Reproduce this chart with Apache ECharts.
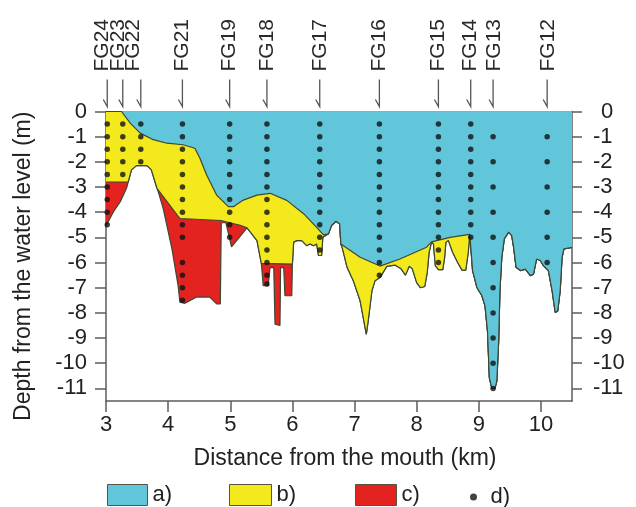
<!DOCTYPE html>
<html><head><meta charset="utf-8">
<script src="https://cdn.jsdelivr.net/npm/echarts@6/dist/echarts.min.js"></script>
<style>html,body{margin:0;padding:0;background:#fff}#c{width:636px;height:507px}</style>
</head><body><div id="c"></div>
<script>
// ---------- data ----------
const xTicks = [3, 4, 5, 6, 7, 8, 9, 10];
const depthTicks = [0, -1, -2, -3, -4, -5, -6, -7, -8, -9, -10, -11];

const profileNames = ['FG24','FG23','FG22','FG21','FG19','FG18','FG17','FG16','FG15','FG14','FG13','FG12'];
const profileKm    = [3.02, 3.27, 3.56, 4.23, 4.99, 5.59, 6.44, 7.40, 8.35, 8.87, 9.23, 10.10];
const labelKm      = [2.94, 3.19, 3.445, 4.23, 4.99, 5.59, 6.44, 7.40, 8.35, 8.86, 9.24, 10.11];

// sampling depths (m) at each profile, layer d)
const sampleDepths = [
  [-0.5,-1,-1.5,-2,-2.5,-3,-3.5,-4,-4.5],
  [-0.5,-1,-1.5,-2,-2.5],
  [-0.5,-1,-1.5,-2],
  [-0.5,-1,-1.5,-2,-2.5,-3,-3.5,-4,-4.5,-5,-6,-6.5,-7,-7.5],
  [-0.5,-1,-1.5,-2,-2.5,-3,-3.5,-4,-4.5,-5],
  [-0.5,-1,-1.5,-2,-2.5,-3,-3.5,-4,-4.5,-5,-5.5,-6,-6.5,-6.85],
  [-0.5,-1,-1.5,-2,-2.5,-3,-3.5,-4,-4.5,-5,-5.5],
  [-0.5,-1,-1.5,-2,-2.5,-3,-3.5,-4,-4.5,-5,-5.5,-6,-6.5],
  [-0.5,-1,-1.5,-2,-2.5,-3,-3.5,-4,-4.5,-5,-5.5,-6],
  [-0.5,-1,-1.5,-2,-2.5,-3,-3.5,-4,-4.5,-5],
  [-1,-2,-3,-4,-5,-6,-7,-8,-9,-10,-11],
  [-1,-2,-3,-4,-5,-6]
];

// river bed (bottom of all layers): [km, depth m]
const bedProfile = [
  [3.00,-4.55],[3.12,-3.98],[3.23,-3.58],[3.33,-3.05],[3.41,-2.32],[3.49,-2.15],[3.66,-2.15],[3.73,-2.32],
  [3.82,-3.05],[3.84,-3.18],[3.92,-3.85],[4.06,-5.44],[4.16,-6.91],[4.19,-7.57],[4.27,-7.62],[4.46,-7.37],
  [4.67,-7.37],[4.78,-7.64],[4.84,-7.64],[4.855,-4.42],[4.93,-4.42],[5.02,-5.38],[5.27,-4.62],[5.43,-5.13],
  [5.50,-6.03],[5.53,-6.92],[5.61,-6.92],[5.64,-6.2],[5.70,-6.2],[5.72,-8.45],[5.80,-8.5],[5.81,-6.2],
  [5.86,-6.2],[5.88,-7.32],[5.99,-7.32],[6.00,-6.06],[6.02,-5.19],[6.07,-5.13],[6.15,-5.13],[6.23,-5.33],
  [6.28,-5.26],[6.34,-5.33],[6.39,-5.26],[6.42,-5.72],[6.47,-5.72],[6.49,-4.99],[6.58,-4.86],[6.63,-4.53],
  [6.70,-4.36],[6.76,-4.46],[6.78,-5.26],[6.80,-5.39],[6.88,-6.19],[6.98,-6.72],[7.09,-7.52],[7.15,-8.32],
  [7.19,-8.85],[7.22,-8.32],[7.28,-7.12],[7.33,-6.72],[7.41,-6.59],[7.52,-6.15],[7.65,-6.1],[7.75,-6.25],
  [7.82,-6.5],[7.88,-6.15],[7.93,-6.25],[8.00,-6.8],[8.06,-7.0],[8.13,-6.95],[8.17,-6.4],[8.20,-5.6],
  [8.24,-5.18],[8.27,-5.26],[8.30,-6.12],[8.35,-6.28],[8.42,-6.28],[8.45,-5.8],[8.47,-5.2],[8.51,-5.12],
  [8.58,-5.6],[8.66,-6.0],[8.73,-6.3],[8.79,-6.3],[8.83,-5.6],[8.855,-4.88],[8.875,-5.5],[8.90,-6.32],
  [8.97,-6.99],[9.05,-7.32],[9.10,-7.72],[9.14,-8.72],[9.17,-10.58],[9.21,-11.0],[9.26,-11.0],[9.29,-10.71],
  [9.32,-9.11],[9.34,-7.12],[9.37,-5.79],[9.41,-5.06],[9.48,-4.79],[9.53,-4.93],[9.56,-5.39],[9.60,-6.19],
  [9.67,-6.32],[9.75,-6.26],[9.83,-6.52],[9.88,-6.46],[9.93,-5.86],[9.99,-5.92],[10.04,-6.12],[10.12,-6.32],
  [10.18,-7.12],[10.23,-7.98],[10.27,-7.92],[10.31,-7.12],[10.34,-5.79],[10.37,-5.46],[10.50,-5.4]
];

// top of layer c) where it is present
const layerCTop = [
  [[3.00,-2.80],[3.357,-2.80]],
  [[3.82,-3.05],[4.19,-4.25],[4.855,-4.33],[4.93,-4.38],[5.16,-4.52],[5.27,-4.62]],
  [[5.50,-6.03],[6.00,-6.06]]
];

// top of layer b) (base of water column a) where sediment is present
const layerBTop = [
  [[3.00,0],[3.25,0],[3.39,-0.46],[3.55,-0.86],[3.76,-1.12],[3.98,-1.26],[4.24,-1.32],[4.43,-1.46],
   [4.51,-1.85],[4.62,-2.52],[4.78,-3.32],[4.97,-3.78],[5.05,-3.78],[5.21,-3.52],[5.43,-3.32],[5.64,-3.25],
   [5.91,-3.53],[6.18,-4.06],[6.39,-4.6],[6.50,-4.9],[6.58,-4.86]],
  [[6.78,-5.26],[6.80,-5.33],[7.09,-5.79],[7.41,-6.14],[7.73,-5.86],[8.16,-5.39],[8.24,-5.18],
   [8.54,-5.0],[8.855,-4.88]]
];

// ---------- build ----------
function withSegments(base, segs) {
  const kept = base.filter(p => !segs.some(s => p[0] >= s[0][0] && p[0] <= s[s.length-1][0]));
  const all = kept.concat(...segs);
  return all.sort((a, b) => a[0] - b[0]);
}
const yellowLine = withSegments(bedProfile, layerCTop);
const blueLine = withSegments(bedProfile, layerBTop);

const dots = [];
profileKm.forEach((km, i) => sampleDepths[i].forEach(d => dots.push([km, d])));

const FONT = '"Liberation Sans", Arial, Helvetica, sans-serif';
const AXIS = '#5c5c5c';
const TXT = '#222';
const OUT = '#3d4734';
const BLUE = '#62c6db', YELLOW = '#f3e91c', RED = '#e2231f';

const chart = echarts.init(document.getElementById('c'), null, {renderer: 'canvas'});

function legendFor(name, left, icon, color, w, h, top) {
  return {
    data: [{name: name, icon: icon, itemStyle: {color: color}}],
    left: left, top: top, padding: 0, itemWidth: w, itemHeight: h, selectedMode: false,
    itemStyle: icon === 'rect' ? {borderColor: '#5a5240', borderWidth: 1} : {borderWidth: 0},
    textStyle: {fontSize: 22, color: TXT, fontFamily: FONT}
  };
}

const option = {
  animation: false,
  backgroundColor: '#fff',
  grid: {left: 106, right: 64, top: 111.5, bottom: 106},
  legend: [
    legendFor('a)', 107, 'rect', BLUE, 40, 21, 484),
    legendFor('b)', 229, 'rect', YELLOW, 42, 21, 484),
    legendFor('c)', 355, 'rect', RED, 41, 21, 484),
    legendFor('d)', 470, 'circle', '#111', 24, 7, 486)
  ],
  xAxis: [
    {
      type: 'value', min: 3, max: 10.5, position: 'bottom',
      name: 'Distance from the mouth (km)', nameLocation: 'middle', nameGap: 46,
      nameTextStyle: {fontSize: 23, color: TXT, fontFamily: FONT, padding: [0, 0, 0, 12]},
      axisLine: {show: true, onZero: false, lineStyle: {color: AXIS, width: 1.5}},
      axisTick: {show: true, length: 11, customValues: xTicks, lineStyle: {color: AXIS, width: 1.5}},
      axisLabel: {customValues: xTicks, margin: 13, fontSize: 22, color: TXT, fontFamily: FONT},
      splitLine: {show: false}
    },
    {
      type: 'value', min: 3, max: 10.5, position: 'top',
      axisLine: {show: true, onZero: false, lineStyle: {color: AXIS, width: 1.5}},
      axisTick: {show: false}, axisLabel: {show: false}, splitLine: {show: false}
    }
  ],
  yAxis: [
    {
      type: 'value', min: -11.5, max: 0, position: 'left',
      name: 'Depth from the water level (m)', nameLocation: 'middle', nameGap: 71, nameRotate: 90,
      nameTextStyle: {fontSize: 23, color: TXT, fontFamily: FONT, padding: [0, 20, 0, 0]},
      axisLine: {show: true, onZero: false, lineStyle: {color: AXIS, width: 1.5}},
      axisTick: {show: true, length: 11, customValues: depthTicks, lineStyle: {color: AXIS, width: 1.5}},
      axisLabel: {customValues: depthTicks, margin: 19, fontSize: 22, color: TXT, fontFamily: FONT},
      splitLine: {show: false}
    },
    {
      type: 'value', min: -11.5, max: 0, position: 'right',
      axisLine: {show: true, onZero: false, lineStyle: {color: AXIS, width: 1.5}},
      axisTick: {show: true, length: 10, customValues: depthTicks, lineStyle: {color: AXIS, width: 1.5}},
      axisLabel: {
        customValues: depthTicks, margin: 21, fontSize: 22, color: TXT, fontFamily: FONT,
        formatter: v => (v === 0 ? '{z|0}' : String(v)),
        rich: {z: {fontSize: 22, color: TXT, fontFamily: FONT, padding: [0, 0, 0, 8]}}
      },
      splitLine: {show: false}
    }
  ],
  series: [
    {
      type: 'line', name: 'c)', data: bedProfile, symbol: 'none', z: 2, color: RED,
      lineStyle: {color: OUT, width: 1.2}, areaStyle: {color: RED, opacity: 1, origin: 'end'}
    },
    {
      type: 'line', name: 'b)', data: yellowLine, symbol: 'none', z: 3, color: YELLOW,
      lineStyle: {color: OUT, width: 1.2}, areaStyle: {color: YELLOW, opacity: 1, origin: 'end'}
    },
    {
      type: 'line', name: 'a)', data: blueLine, symbol: 'none', z: 4, color: BLUE,
      lineStyle: {color: OUT, width: 1.2}, areaStyle: {color: BLUE, opacity: 1, origin: 'end'}
    },
    {
      type: 'scatter', name: 'd)', data: dots, symbol: 'circle', symbolSize: 5.5, z: 5,
      itemStyle: {color: '#111'}, silent: true
    },
    {
      type: 'custom', name: 'profiles', clip: false, silent: true, z: 6,
      encode: {x: 0, y: 1},
      data: profileKm.map((km, i) => [km, 0, labelKm[i]]),
      renderItem: function (params, api) {
        const top = api.coord([api.value(0), 0]);
        const lx = api.coord([api.value(2), 0])[0];
        const ax = top[0], y0 = top[1];
        return {
          type: 'group',
          children: [
            {
              type: 'text', x: lx, y: y0 - 40, rotation: Math.PI / 2,
              style: {text: profileNames[params.dataIndex], x: 0, y: 0, align: 'left', verticalAlign: 'middle',
                      fontSize: 21, fontFamily: FONT, fill: '#2a2a2a'}
            },
            {
              type: 'polyline',
              shape: {points: [[ax, y0 - 32], [ax, y0 - 5], [ax - 4, y0 - 12]]},
              style: {stroke: '#555', lineWidth: 1.3, fill: null}
            }
          ]
        };
      }
    }
  ]
};
chart.setOption(option);
</script></body></html>
